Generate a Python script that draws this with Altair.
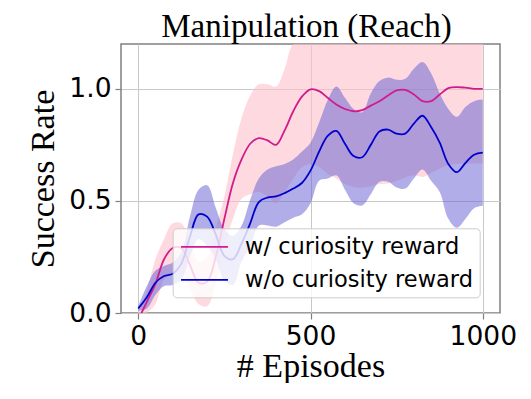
import altair as alt
import pandas as pd

episodes = [0, 25, 50, 75, 100, 125, 150, 175, 200, 225, 250, 275, 300, 325, 350,
            375, 400, 425, 450, 475, 500, 525, 550, 575, 600, 625, 650, 675, 700,
            725, 750, 775, 800, 825, 850, 875, 900, 925, 950, 975, 1000]

with_mean = [-0.03, 0.05, 0.13, 0.24, 0.29, 0.29, 0.215, 0.135, 0.14, 0.25, 0.42,
             0.58, 0.685, 0.755, 0.78, 0.77, 0.75, 0.815, 0.90, 0.965, 0.998, 0.99,
             0.96, 0.93, 0.91, 0.90, 0.905, 0.925, 0.945, 0.97, 0.993, 0.995, 0.975,
             0.945, 0.945, 0.975, 1.003, 1.008, 1.005, 1.0, 1.0]
with_lo = [-0.03, 0.0, 0.04, 0.15, 0.18, 0.18, 0.11, 0.04, 0.03, 0.13, 0.30, 0.42,
           0.51, 0.53, 0.54, 0.52, 0.49, 0.54, 0.60, 0.65, 0.665, 0.65, 0.62, 0.60,
           0.575, 0.562, 0.56, 0.565, 0.575, 0.578, 0.59, 0.605, 0.614, 0.607, 0.625,
           0.645, 0.66, 0.665, 0.667, 0.667, 0.667]
# upper edge as visible (runs off the top of the plot from ~450 on)
with_hi = [0.0, 0.10, 0.24, 0.33, 0.40, 0.40, 0.32, 0.23, 0.25, 0.38, 0.52, 0.71,
           0.87, 0.97, 1.02, 1.02, 1.01, 1.09, 1.2, 1.2, 1.2, 1.2, 1.2, 1.2,
           1.2, 1.2, 1.2, 1.2, 1.2, 1.2, 1.2, 1.2, 1.2, 1.2, 1.2,
           1.2, 1.2, 1.2, 1.2, 1.2, 1.2]

without_mean = [0.02, 0.07, 0.135, 0.165, 0.175, 0.22, 0.34, 0.44, 0.43, 0.35, 0.255,
                0.24, 0.31, 0.40, 0.495, 0.515, 0.52, 0.535, 0.555, 0.58, 0.635, 0.72,
                0.79, 0.812, 0.755, 0.70, 0.695, 0.75, 0.81, 0.818, 0.80, 0.80, 0.845,
                0.88, 0.83, 0.76, 0.665, 0.628, 0.67, 0.706, 0.715]
without_lo = [0.01, 0.02, 0.08, 0.12, 0.125, 0.15, 0.25, 0.33, 0.30, 0.24, 0.145, 0.125,
              0.23, 0.295, 0.39, 0.39, 0.385, 0.405, 0.425, 0.44, 0.49, 0.59, 0.60,
              0.614, 0.55, 0.49, 0.48, 0.53, 0.585, 0.586, 0.56, 0.555, 0.60, 0.64,
              0.59, 0.54, 0.42, 0.38, 0.42, 0.467, 0.478]
without_hi = [0.03, 0.12, 0.19, 0.21, 0.225, 0.27, 0.43, 0.55, 0.57, 0.47, 0.375, 0.345,
              0.39, 0.505, 0.60, 0.64, 0.655, 0.665, 0.685, 0.72, 0.76, 0.85, 0.95, 1.01,
              0.96, 0.91, 0.895, 0.98, 1.035, 1.05, 1.04, 1.045, 1.09, 1.12, 1.07, 0.98,
              0.91, 0.875, 0.92, 0.945, 0.952]

series_names = ["w/ curiosity reward", "w/o curiosity reward"]
line_colors = ["#d01c8b", "#0000cd"]

band_with = pd.DataFrame({"x": episodes, "lo": with_lo, "hi": with_hi})
band_without = pd.DataFrame({"x": episodes, "lo": without_lo, "hi": without_hi})
lines = pd.DataFrame({
    "x": episodes + episodes,
    "y": with_mean + without_mean,
    "series": [series_names[0]] * len(episodes) + [series_names[1]] * len(episodes),
})

xscale = alt.Scale(domain=[-50, 1050], nice=False, zero=False)
yscale = alt.Scale(domain=[0, 1.2], nice=False, zero=False)

axis_common = dict(
    grid=True, gridColor="#c8c8c8", gridWidth=1,
    tickColor="#808080", tickSize=6, tickWidth=1.2,
    labelFont="DejaVu Sans", labelFontSize=26.5, labelColor="black",
    domain=False,
    titleFont="Liberation Serif", titleFontSize=34, titleFontWeight="normal",
    titleColor="black", titleBaseline="alphabetic", titleAlign="center",
)

xaxis = alt.Axis(values=[0, 500, 1000], format="d", labelPadding=4, title="# Episodes",
                 titleX=189.5, titleY=63.4, **axis_common)
yaxis = alt.Axis(values=[0, 0.5, 1.0], format=".1f", labelPadding=4,
                 title="Success Rate", titleAngle=270, titleX=-68, titleY=134.5,
                 **axis_common)

base_x = alt.X("x:Q", scale=xscale, axis=xaxis)
interp = "catmull-rom"

pink_band = alt.Chart(band_with).mark_area(
    interpolate=interp, clip=True, color="#ffc0cb", opacity=0.6
).encode(x=base_x, y=alt.Y("lo:Q", scale=yscale, axis=yaxis), y2="hi:Q")

blue_band = alt.Chart(band_without).mark_area(
    interpolate=interp, clip=True, color="#6965d3", opacity=0.53
).encode(x=base_x, y=alt.Y("lo:Q", scale=yscale, axis=yaxis), y2="hi:Q")

legend = alt.Legend(
    orient="none", legendX=51.7, legendY=184.3, title=None,
    symbolType="M-2.04,0H2.04", symbolSize=529, symbolStrokeWidth=1.8,
    symbolOffset=13.3, labelOffset=28, padding=6, rowPadding=9,
    labelFont="DejaVu Sans", labelFontSize=22.5, labelColor="black", labelLimit=500,
    fillColor="rgba(255,255,255,0.8)", strokeColor="#cccccc", cornerRadius=4,
)

mean_lines = alt.Chart(lines).mark_line(
    interpolate=interp, clip=True, strokeWidth=1.8
).encode(
    x=base_x,
    y=alt.Y("y:Q", scale=yscale, axis=yaxis),
    color=alt.Color("series:N", scale=alt.Scale(domain=series_names, range=line_colors),
                    legend=legend),
)

chart = alt.layer(pink_band, blue_band, mean_lines).properties(
    width=379, height=269,
    autosize=alt.AutoSizeParams(type="none"),
    padding={"left": 113, "top": 36, "right": 22, "bottom": 70},
    title=alt.TitleParams(
        "Manipulation (Reach)", font="Liberation Serif", fontSize=33,
        fontWeight="normal", color="black", anchor="middle", baseline="alphabetic",
        offset=6, dx=-4, dy=32,
    ),
).configure_view(stroke="#808080", strokeWidth=1.5)

chart.save("out.html", embed_options={"renderer": "svg", "actions": False})
